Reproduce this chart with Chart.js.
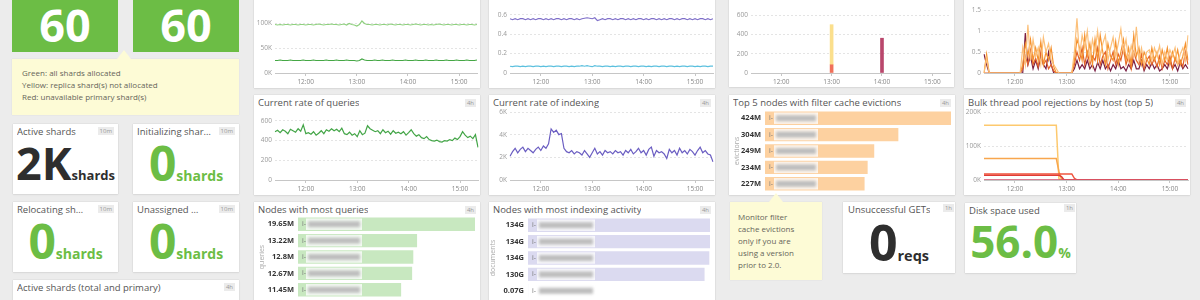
<!DOCTYPE html>
<html>
<head>
<meta charset="utf-8">
<script src="https://cdn.jsdelivr.net/npm/chart.js@4.4.1/dist/chart.umd.min.js"></script>
<style>
  html, body { margin: 0; padding: 0; }
  body { width: 1200px; height: 300px; overflow: hidden; background: #ececec; position: relative; font-family: "Open Sans", sans-serif; }
  .w { position: absolute; background: #fff; box-shadow: 0 0 1px rgba(0,0,0,0.2), 0 1px 2px rgba(0,0,0,0.06); }
  .t { position: absolute; left: 4px; top: 1px; font-size: 9.5px; line-height: 14px; color: #555; white-space: nowrap; overflow: hidden; text-overflow: ellipsis; }
  .b { position: absolute; top: 4px; right: 4px; font-size: 6px; line-height: 8px; padding: 0 2px; background: #ebebeb; color: #999; }
  .big { position: absolute; left: 0; right: 0; display: flex; justify-content: center; align-items: baseline; font-weight: 700; line-height: 1; }
  .green { color: #6cbd45; }
  .dark { color: #2e2e2e; }
  .gbox { position: absolute; background: #6cbd45; color: #fff; }
  .note { position: absolute; background: #fdfbd6; color: #66655a; font-size: 8px; line-height: 12px; box-shadow: 0 0 1px rgba(0,0,0,0.12); }
  .arr { position: absolute; top: -9px; width: 0; height: 0; border-left: 7px solid transparent; border-right: 7px solid transparent; border-bottom: 9px solid #fdfbd6; }
  canvas { position: absolute; }
</style>
</head>
<body>

<!-- left column: cluster status -->
<div class="gbox" style="left:12px;top:-10px;width:106px;height:62px"><div class="big" style="top:12px;font-size:45px">60</div></div>
<div class="gbox" style="left:133px;top:-10px;width:106px;height:62px"><div class="big" style="top:12px;font-size:45px">60</div></div>
<div class="note" style="left:12px;top:59px;width:217px;height:48px;padding:8px 0 0 10px">
  <div class="arr" style="left:105px"></div>
  Green: all shards allocated<br>Yellow: replica shard(s) not allocated<br>Red: unavailable primary shard(s)
</div>

<div class="w" style="left:13px;top:124px;width:105px;height:70px">
  <div class="t" style="right:24px">Active shards</div><div class="b" style="top:3px">10m</div>
  <div class="big dark" style="top:16px;font-size:45px">2K<span style="font-size:13px">shards</span></div>
</div>
<div class="w" style="left:133px;top:124px;width:106px;height:70px">
  <div class="t" style="right:27px">Initializing shards</div><div class="b" style="top:3px">10m</div>
  <div class="big green" style="top:15px;font-size:48px">0<span style="font-size:14px">shards</span></div>
</div>
<div class="w" style="left:13px;top:202px;width:105px;height:70px">
  <div class="t" style="right:31px">Relocating shards</div><div class="b" style="top:3px">10m</div>
  <div class="big green" style="top:15px;font-size:48px">0<span style="font-size:14px">shards</span></div>
</div>
<div class="w" style="left:133px;top:202px;width:106px;height:70px">
  <div class="t" style="right:39px">Unassigned shards</div><div class="b" style="top:3px">10m</div>
  <div class="big green" style="top:15px;font-size:48px">0<span style="font-size:14px">shards</span></div>
</div>
<div class="w" style="left:13px;top:280px;width:226px;height:40px">
  <div class="t">Active shards (total and primary)</div><div class="b" style="top:3px">4h</div>
</div>

<!-- top row of timeseries -->
<div class="w" style="left:254px;top:-20px;width:226px;height:108px"></div>
<div class="w" style="left:489px;top:-20px;width:226px;height:108px"></div>
<div class="w" style="left:729px;top:-20px;width:225px;height:107px"></div>
<div class="w" style="left:964px;top:-20px;width:226px;height:108px"></div>
<canvas id="cA" width="226" height="88" style="left:254px;top:0px"></canvas>
<canvas id="cB" width="226" height="88" style="left:489px;top:0px"></canvas>
<canvas id="cC" width="225" height="88" style="left:729px;top:0px"></canvas>
<canvas id="cD" width="226" height="88" style="left:964px;top:0px"></canvas>

<!-- second row -->
<div class="w" style="left:254px;top:95px;width:226px;height:100px"><div class="t">Current rate of queries</div><div class="b">4h</div></div>
<div class="w" style="left:489px;top:95px;width:226px;height:100px"><div class="t">Current rate of indexing</div><div class="b">4h</div></div>
<div class="w" style="left:729px;top:95px;width:226px;height:100px"><div class="t">Top 5 nodes with filter cache evictions</div><div class="b">4h</div></div>
<div class="w" style="left:964px;top:95px;width:226px;height:100px"><div class="t">Bulk thread pool rejections by host (top 5)</div><div class="b">4h</div></div>
<canvas id="cQueries" width="226" height="89" style="left:254px;top:106px"></canvas>
<canvas id="cIndexing" width="226" height="89" style="left:489px;top:106px"></canvas>
<canvas id="cEvictions" width="226" height="82" style="left:729px;top:110px"></canvas>
<canvas id="cBulk" width="226" height="89" style="left:964px;top:106px"></canvas>

<!-- third row -->
<div class="w" style="left:254px;top:202px;width:226px;height:110px"><div class="t">Nodes with most queries</div><div class="b">4h</div></div>
<div class="w" style="left:489px;top:202px;width:226px;height:110px"><div class="t">Nodes with most indexing activity</div><div class="b">4h</div></div>
<canvas id="cTopQueries" width="226" height="82" style="left:254px;top:216px"></canvas>
<canvas id="cTopIndexing" width="226" height="82" style="left:489px;top:217px"></canvas>

<div class="note" style="left:730px;top:202px;width:84px;height:69px;padding:9px 0 0 8px">
  <div class="arr" style="left:39px"></div>
  Monitor filter<br>cache evictions<br>only if you are<br>using a version<br>prior to 2.0.
</div>
<div class="w" style="left:843px;top:202px;width:112px;height:71px">
  <div class="t" style="left:5px">Unsuccessful GETs</div><div class="b" style="top:2px;right:1px">1h</div>
  <div class="big dark" style="top:15px;font-size:50px">0<span style="font-size:14.5px">reqs</span></div>
</div>
<div class="w" style="left:965px;top:203px;width:111px;height:70px">
  <div class="t">Disk space used</div><div class="b" style="top:1px;right:1px">1h</div>
  <div class="big green" style="top:16px;font-size:44px">56.0<span style="font-size:14px">%</span></div>
</div>

<script>
// shared time axis, 3 minute steps
const times = [
  '11:24','11:27','11:30','11:33','11:36','11:39','11:42','11:45','11:48','11:51',
  '11:54','11:57','12:00','12:03','12:06','12:09','12:12','12:15','12:18','12:21',
  '12:24','12:27','12:30','12:33','12:36','12:39','12:42','12:45','12:48','12:51',
  '12:54','12:57','13:00','13:03','13:06','13:09','13:12','13:15','13:18','13:21',
  '13:24','13:27','13:30','13:33','13:36','13:39','13:42','13:45','13:48','13:51',
  '13:54','13:57','14:00','14:03','14:06','14:09','14:12','14:15','14:18','14:21',
  '14:24','14:27','14:30','14:33','14:36','14:39','14:42','14:45','14:48','14:51',
  '14:54','14:57','15:00','15:03','15:06','15:09','15:12','15:15','15:18','15:21'
];
const hourTicks = ['12:00', '13:00', '14:00', '15:00'];

// top row, panel A (thousands)
const docsUpper = [
  97,96,97,96,97,97,96,97,97,96,
  97,97,96,97,97,96,97,98,97,96,
  97,97,98,97,97,96,97,98,96,99,
  97,96,94,97,104,99,97,97,96,97,
  97,96,97,97,96,98,97,96,97,97,
  96,97,97,96,97,98,97,96,97,97,
  96,97,96,97,98,97,96,97,97,96,
  97,97,96,97,97,96,97,97,96,97
];
const docsLower = [
  25,25,26,25,25,25,26,25,25,25,
  25,26,25,25,25,26,25,25,25,25,
  26,25,25,25,26,25,25,25,26,25,
  25,25,24,25,28,26,25,25,25,26,
  25,25,26,25,25,25,26,25,25,25,
  25,26,25,25,25,26,25,25,25,26,
  25,25,25,26,25,25,25,26,25,25,
  25,26,25,25,25,26,25,25,25,26
];
const panelATicks = [0, 50, 100];

// top row, panel B
const ratioPurple = [
  0.56,0.55,0.56,0.55,0.56,0.56,0.55,0.56,0.55,0.56,
  0.55,0.56,0.56,0.55,0.56,0.55,0.56,0.55,0.56,0.56,
  0.55,0.56,0.55,0.56,0.56,0.55,0.56,0.55,0.56,0.565,
  0.57,0.565,0.56,0.57,0.54,0.55,0.56,0.55,0.56,0.56,
  0.55,0.56,0.55,0.56,0.56,0.55,0.56,0.55,0.56,0.55,
  0.56,0.56,0.55,0.56,0.55,0.56,0.56,0.55,0.56,0.55,
  0.56,0.55,0.56,0.56,0.55,0.56,0.55,0.56,0.56,0.55,
  0.56,0.55,0.56,0.55,0.56,0.56,0.55,0.56,0.55,0.56
];
const ratioCyan = [
  0.07,0.065,0.07,0.07,0.065,0.07,0.065,0.07,0.07,0.065,
  0.07,0.07,0.065,0.07,0.065,0.07,0.07,0.065,0.07,0.07,
  0.065,0.07,0.07,0.065,0.07,0.065,0.07,0.07,0.075,0.07,
  0.075,0.07,0.065,0.075,0.07,0.07,0.065,0.07,0.07,0.065,
  0.07,0.065,0.07,0.07,0.065,0.07,0.07,0.065,0.07,0.07,
  0.065,0.07,0.07,0.065,0.07,0.065,0.07,0.07,0.065,0.07,
  0.07,0.065,0.07,0.07,0.065,0.07,0.065,0.07,0.07,0.065,
  0.07,0.07,0.065,0.07,0.065,0.07,0.07,0.065,0.07,0.07
];
const panelBTicks = [0, 0.2, 0.4, 0.6];

// top row, panel C (spikes)
const spikeLow = [{ x: '13:00', y: 85 }];
const spikeHigh = [{ x: '13:00', y: 415 }];
const spikeLate = [{ x: '14:00', y: 360 }];
const panelCTicks = [0, 200, 400, 600];

// top row, panel D
const burstLight = [
  0,0.35,0,0,0,0,0,0,0,0,
  0,0,0,0,0,0.6,0.2,1.15,0.3,0.8,
  0.4,0.6,0.2,0.85,0.5,0.7,0.3,0.2,0.1,0,
  0,0,0,0,0,0.5,1.3,0.4,0.9,0.6,
  1.0,0.3,0.8,0.5,1.0,0.4,0.7,0.9,0.3,0.6,
  0.85,0.4,0.7,1.05,0.5,0.8,0.3,0.65,0.4,1.1,
  0.3,0.6,0.2,0.5,0.55,0.3,0.6,0.4,0.65,0.2,
  0.5,0.3,0.55,0.4,0.6,0.2,0.45,0.6,0.3,0.9
];
const burstOrange = [
  0,0.45,0,0,0,0,0,0,0,0,
  0,0,0,0,0,0.2,0.7,0.4,0.8,0.3,
  0.6,0.3,0.75,0.2,0.5,0.3,0.6,0.15,0,0,
  0,0,0,0,0,0.3,0.8,0.6,0.3,0.9,
  0.4,0.7,0.2,0.8,0.3,0.9,0.5,0.2,0.7,0.4,
  0.3,0.75,0.2,0.5,0.8,0.3,0.6,0.2,0.9,0.4,
  0.6,0.2,0.5,0.35,0.2,0.6,0.3,0.5,0.2,0.55,
  0.3,0.6,0.2,0.5,0.3,0.55,0.2,0.4,0.7,0.3
];
const burstRed = [
  0,0,0,0,0,0,0,0,0,0,
  0,0,0,0,0,0.1,0.4,0.2,0.55,0.2,
  0.35,0.15,0.5,0.2,0.3,0.1,0.2,0.05,0,0,
  0,0,0,0,0,0.2,0.5,0.3,0.6,0.2,
  0.5,0.2,0.4,0.3,0.6,0.2,0.4,0.5,0.1,0.3,
  0.5,0.2,0.45,0.3,0.6,0.2,0.4,0.1,0.5,0.3,
  0.2,0.45,0.1,0.3,0.4,0.2,0.35,0.15,0.4,0.1,
  0.3,0.2,0.4,0.1,0.35,0.2,0.3,0.15,0.5,0.2
];
const burstMaroon = [
  0.45,0.2,0,0,0,0,0,0,0,0,
  0,0,0,0,0,0,0.95,0.2,0.4,0.1,
  0.3,0.1,0.4,0.2,0.1,0.5,0.2,0,0,0,
  0,0,0,0,0,0.1,0.3,0.1,0.2,0.1,
  0.3,0.1,0.2,0.05,0.25,0.1,0.3,0.1,0.2,0.05,
  0.2,0.1,0.3,0.1,0.15,0.05,0.2,0.1,0.3,0.1,
  0.1,0.3,0.05,0.2,0.1,0.25,0.1,0.2,0.05,0.1,
  0.2,0.1,0.3,0.1,0.2,0.05,0.25,0.1,0.2,0.1
];
const panelDTicks = [0, 0.5, 1, 1.5];

// current rate of queries
const queryRate = [
  490,505,480,510,495,470,515,500,485,520,
  495,560,470,480,465,490,455,475,500,470,
  510,495,520,500,515,490,525,470,460,485,
  455,470,440,500,460,475,550,520,505,490,
  500,470,510,480,495,465,500,475,485,470,
  490,455,480,510,470,445,460,430,420,440,
  410,400,395,405,390,385,400,395,410,400,
  425,410,440,490,455,430,445,420,460,330
];
const queryTicks = [0, 200, 400, 600];

// current rate of indexing (thousands)
const indexRate = [
  2.1,2.5,2.8,2.4,2.7,2.9,2.5,2.8,2.6,2.4,
  2.7,2.9,2.6,3.0,2.8,3.2,4.5,4.2,4.4,4.0,
  4.1,2.8,2.5,2.4,2.6,2.3,2.5,2.4,2.2,2.6,
  2.3,2.0,2.4,2.8,2.3,2.5,2.2,2.6,2.4,2.5,
  2.3,2.6,2.4,2.5,2.2,2.6,2.4,2.7,2.3,2.5,
  2.8,2.4,2.6,2.2,2.7,2.9,2.1,2.6,2.4,2.5,
  2.3,1.9,2.7,2.4,2.6,2.2,2.8,2.4,2.6,2.3,
  2.7,2.5,2.2,2.6,2.9,2.4,2.6,2.3,2.2,1.6
];
const indexTicks = [0, 2, 4, 6];

// bulk thread pool rejections (thousands)
const bulkYellow = [
  161,161,161,161,161,161,161,161,161,161,
  161,161,161,161,161,161,161,161,161,161,
  161,161,161,161,161,161,161,161,161,4,
  0,0,0,0,0,0,0,0,0,0,
  0,0,0,0,0,0,0,0,0,0,
  0,0,0,0,0,0,0,0,0,0,
  0,0,0,0,0,0,0,0,0,0,
  0,0,0,0,0,0,0,0,0,0
];
const bulkOrange = [
  63,63,63,63,63,63,63,63,63,63,
  63,63,63,63,63,63,63,63,63,63,
  63,63,63,63,63,63,63,63,63,25,
  3,0,0,0,0,0,0,0,0,0,
  0,0,0,0,0,0,0,0,0,0,
  0,0,0,0,0,0,0,0,0,0,
  0,0,0,0,0,0,0,0,0,0,
  0,0,0,0,0,0,0,0,0,0
];
const bulkRed = [
  18,18,18,18,18,18,18,18,18,18,
  18,18,18,18,18,18,18,18,18,18,
  18,18,18,18,18,18,18,18,18,18,
  18,18,18,18,18,5,0,0,0,0,
  0,0,0,0,0,0,0,0,0,0,
  0,0,0,0,0,0,0,0,0,0,
  0,0,0,0,0,0,0,0,0,0,
  0,0,0,0,0,0,0,0,0,0
];
const bulkCrimson = [
  14,14,14,14,14,14,14,14,14,14,
  14,14,14,14,14,14,14,14,14,14,
  14,14,14,14,14,14,14,14,14,14,
  10,0,0,0,0,0,0,0,0,0,
  0,0,0,0,0,0,0,0,0,0,
  0,0,0,0,0,0,0,0,0,0,
  0,0,0,0,0,0,0,0,0,0,
  0,0,0,0,0,0,0,0,0,0
];
const bulkMaroon = [
  0,0,0,0,0,0,0,0,0,0,
  0,0,0,0,0,0,0,0,0,0,
  0,0,0,0,0,0,0,0,0,0,
  0,0,0,0,0,0,0,0,0,0,
  0,0,0,0,0,0,0,0,0,0,
  0,0,0,0,0,0,0,0,0,0,
  0,0,0,0,0,0,0,0,0,0,
  0,0,0,0,0,0,0,0,0,0
];
const bulkTicks = [0, 100, 200];

// top lists
const queryNodeLabels = ['19.65M', '13.22M', '12.8M', '12.67M', '11.45M'];
const queryNodeValues = [19.65, 13.22, 12.8, 12.67, 11.45];
const indexNodeLabels = ['134G', '134G', '134G', '130G', '0.07G'];
const indexNodeValues = [134, 134, 133.5, 130, 0.07];
const evictNodeLabels = ['424M', '304M', '249M', '234M', '227M'];
const evictNodeValues = [424, 304, 249, 234, 227];

Chart.defaults.font.family = '"Open Sans", sans-serif';

function timeChart(id, type, datasets, yMax, yTicks, yLabel, yWidth, padRight, padTop, stacked) {
  return new Chart(document.getElementById(id), {
    type: type,
    data: { labels: times, datasets: datasets },
    options: {
      responsive: false,
      animation: false,
      devicePixelRatio: 1,
      layout: { padding: { top: padTop, right: padRight, left: 0, bottom: 0 } },
      plugins: { legend: { display: false }, tooltip: { enabled: false } },
      elements: { point: { radius: 0 }, line: { borderWidth: 1.2, tension: 0 } },
      scales: {
        x: {
          stacked: stacked,
          offset: false,
          grid: { drawOnChartArea: false, offset: false, color: '#c6c6c6', tickLength: 3 },
          border: { color: '#c6c6c6' },
          ticks: { autoSkip: false, maxRotation: 0, padding: 2, color: '#888', font: { size: 6.5 } },
          afterBuildTicks: s => { s.ticks = s.ticks.filter(t => hourTicks.includes(times[t.value])); },
          afterFit: s => { s.height = 15; s.paddingLeft = 0; s.paddingRight = 0; }
        },
        y: {
          stacked: stacked,
          min: 0,
          max: yMax,
          grid: { color: '#e4e4e4', drawTicks: false },
          border: { display: false, dash: [2, 2] },
          ticks: { padding: 3, color: '#999', font: { size: 6.5 }, callback: yLabel },
          afterBuildTicks: s => { s.ticks = yTicks.map(v => ({ value: v })); },
          afterFit: s => { s.width = yWidth; s.paddingTop = 0; s.paddingBottom = 0; }
        }
      }
    }
  });
}

const kLabel = v => v + 'K';
const plainLabel = v => String(v);

timeChart('cA', 'line', [
  { data: docsUpper, borderColor: '#8fd07f' },
  { data: docsLower, borderColor: '#45a745' }
], 126, panelATicks, kLabel, 21, 3, 10, false);

timeChart('cB', 'line', [
  { data: ratioPurple, borderColor: '#7f6fc9' },
  { data: ratioCyan, borderColor: '#5cc0de' }
], 0.65, panelBTicks, plainLabel, 21, 2, 10, false);

timeChart('cC', 'bar', [
  { data: spikeLow, backgroundColor: '#f0705a', barThickness: 3 },
  { data: spikeHigh, backgroundColor: '#fbdf8c', barThickness: 3 },
  { data: spikeLate, backgroundColor: '#b9476c', barThickness: 3 }
], 652, panelCTicks, plainLabel, 22, 4, 10, true);

timeChart('cD', 'line', [
  { data: burstLight, borderColor: '#fcc07a' },
  { data: burstOrange, borderColor: '#f5922f' },
  { data: burstRed, borderColor: '#e2622a' },
  { data: burstMaroon, borderColor: '#7a1f44' }
], 1.5, panelDTicks, plainLabel, 20, 2, 10, false);

timeChart('cQueries', 'line', [
  { data: queryRate, borderColor: '#43a547' }
], 690, queryTicks, plainLabel, 21, 2, 6, false);

timeChart('cIndexing', 'line', [
  { data: indexRate, borderColor: '#6b5ec2' }
], 6, indexTicks, kLabel, 21, 2, 6, false);

timeChart('cBulk', 'line', [
  { data: bulkMaroon, borderColor: '#d24f6c', borderWidth: 1.5 },
  { data: bulkRed, borderColor: '#f0553f', borderWidth: 1.5 },
  { data: bulkCrimson, borderColor: '#e03c36', borderWidth: 1.5 },
  { data: bulkOrange, borderColor: '#f8a64e', borderWidth: 1.5 },
  { data: bulkYellow, borderColor: '#fdc96e', borderWidth: 1.5 }
], 200, bulkTicks, kLabel, 20, 2, 6, false);

// blurred host names drawn over the bars
const hostMask = {
  id: 'hostMask',
  afterDatasetsDraw(chart, args, opts) {
    const ctx = chart.ctx;
    const left = chart.chartArea.left;
    ctx.save();
    chart.getDatasetMeta(0).data.forEach(bar => {
      const y = bar.y;
      const h = bar.height;
      ctx.fillStyle = 'rgba(255,255,255,0.8)';
      ctx.fillRect(left + opts.start, y - h / 2 + 1, opts.width, h - 2);
      ctx.filter = 'blur(1.5px)';
      ctx.fillStyle = '#bdbdbd';
      ctx.fillRect(left + opts.start + 2, y - 3, opts.width - 4, 6);
      ctx.filter = 'none';
      ctx.fillStyle = '#777';
      ctx.font = '7px "Open Sans"';
      ctx.textBaseline = 'middle';
      ctx.fillText('i-', left + 4, y);
    });
    ctx.restore();
  }
};

function listChart(id, labels, values, color, yWidth, padRight, axisTitle, titlePad, mask) {
  return new Chart(document.getElementById(id), {
    type: 'bar',
    data: { labels: labels, datasets: [{ data: values, backgroundColor: color, barPercentage: 0.82, categoryPercentage: 1 }] },
    options: {
      indexAxis: 'y',
      responsive: false,
      animation: false,
      devicePixelRatio: 1,
      layout: { padding: { top: 0, bottom: 0, left: 0, right: padRight } },
      plugins: { legend: { display: false }, tooltip: { enabled: false }, hostMask: mask },
      scales: {
        x: { display: false, min: 0, max: Math.max(...values) },
        y: {
          grid: { display: false, drawTicks: false },
          border: { display: false },
          ticks: { padding: 4, color: '#333', font: { size: 7.5, weight: 'bold' } },
          title: { display: true, text: axisTitle, color: '#aaa', font: { size: 7 }, padding: { top: titlePad, bottom: 0 } },
          afterFit: s => { s.width = yWidth; s.paddingTop = 0; s.paddingBottom = 0; }
        }
      }
    },
    plugins: [hostMask]
  });
}

listChart('cTopQueries', queryNodeLabels, queryNodeValues, '#c8e8c0', 44, 5, 'queries', 4, { start: 8, width: 56 });
listChart('cTopIndexing', indexNodeLabels, indexNodeValues, '#dbdaf0', 39, 5, 'documents', 0, { start: 9, width: 58 });
listChart('cEvictions', evictNodeLabels, evictNodeValues, '#fdd1a0', 36, 4, 'evictions', 4, { start: 9, width: 44 });
</script>
</body>
</html>
